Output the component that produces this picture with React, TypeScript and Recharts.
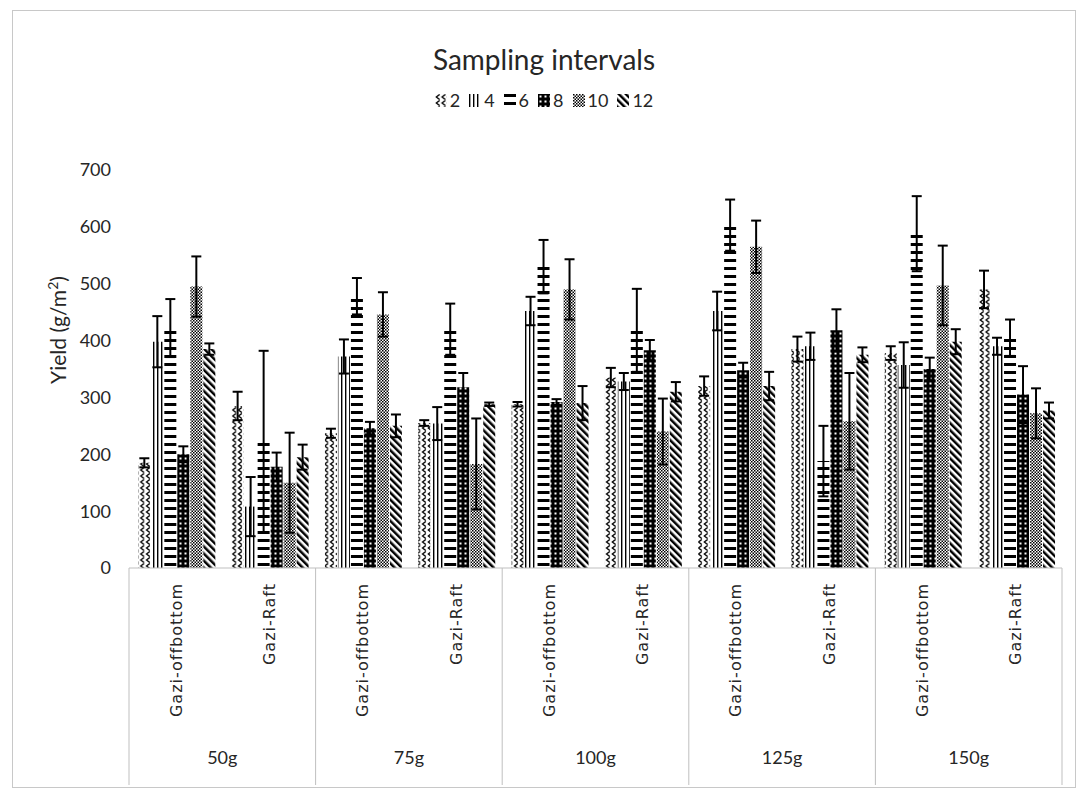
import React from 'react';
import { BarChart, Bar, XAxis, YAxis, ErrorBar } from 'recharts';

// categories
const groups = ['50g', '75g', '100g', '125g', '150g'];
const systems = ['Gazi-offbottom', 'Gazi-Raft'];
const intervals = ['2', '4', '6', '8', '10', '12'];
const yTicks = [0, 100, 200, 300, 400, 500, 600, 700];

// yield per interval, order: 50g off, 50g raft, 75g off, 75g raft, ... 150g raft
const yield2 = [185, 285, 237, 255, 288, 335, 320, 385, 378, 490];
const yield4 = [398, 108, 372, 254, 452, 328, 452, 390, 357, 390];
const yield6 = [422, 222, 478, 420, 530, 418, 603, 188, 588, 405];
const yield8 = [200, 178, 246, 318, 292, 383, 348, 418, 350, 305];
const yield10 = [495, 150, 446, 183, 490, 240, 565, 258, 497, 272];
const yield12 = [385, 195, 250, 288, 290, 310, 320, 375, 398, 277];

// error bars (+/-)
const err2 = [8, 25, 8, 5, 4, 17, 17, 22, 12, 33];
const err4 = [45, 52, 30, 29, 25, 15, 34, 24, 40, 15];
const err6 = [51, 160, 32, 45, 47, 73, 45, 62, 66, 32];
const err8 = [14, 25, 11, 25, 5, 18, 13, 37, 20, 50];
const err10 = [53, 88, 39, 80, 53, 58, 46, 85, 70, 44];
const err12 = [10, 22, 20, 3, 30, 17, 25, 13, 22, 14];

const values: Record<string, number[]> = { '2': yield2, '4': yield4, '6': yield6, '8': yield8, '10': yield10, '12': yield12 };
const errors: Record<string, number[]> = { '2': err2, '4': err4, '6': err6, '8': err8, '10': err10, '12': err12 };

const data = groups.flatMap((g, gi) =>
  systems.map((s, si) => {
    const idx = gi * systems.length + si;
    const row: any = { group: g, sub: s };
    intervals.forEach((k) => {
      row['v' + k] = values[k][idx];
      row['e' + k] = errors[k][idx];
    });
    return row;
  })
);

const W = 1062;
const H = 776;
const M_TOP = 159;
const M_RIGHT = 13;
const Y_W = 116;
const SUB_H = 150;
const GRP_H = 69;
const PLOT_BOTTOM = H - SUB_H - GRP_H;
const BAND = (W - Y_W - M_RIGHT) / data.length;

const LATO = 'Lato, "Noto Sans", sans-serif';
const TXT = '#262626';
const GRID = '#bfbfbf';

const SubTick = (props: any) => {
  const { x, payload } = props;
  const tx = x + 6;
  const ty = PLOT_BOTTOM + 15;
  return (
    <text
      x={tx}
      y={ty}
      transform={`rotate(-90, ${tx}, ${ty})`}
      textAnchor="end"
      style={{ fontFamily: '"DejaVu Sans", sans-serif', fontSize: 16, letterSpacing: 1, fill: TXT }}
    >
      {payload.value}
    </text>
  );
};

const GroupTick = (props: any) => {
  const { x, index, payload } = props;
  const y1 = PLOT_BOTTOM;
  const y2 = H - 2;
  if (index % 2 === 1) {
    if (index === data.length - 1) {
      return <line x1={x + BAND / 2} x2={x + BAND / 2} y1={y1} y2={y2} stroke={GRID} />;
    }
    return <g />;
  }
  return (
    <g>
      <line x1={x - BAND / 2} x2={x - BAND / 2} y1={y1} y2={y2} stroke={GRID} />
      <text x={x + BAND / 2} y={H - 30} textAnchor="middle" dominantBaseline="central" style={{ fontFamily: LATO, fontSize: 18, fill: TXT }}>
        {payload.value}
      </text>
    </g>
  );
};

export default function App() {
  return (
    <div style={{ position: 'absolute', left: 12, top: 10, width: W + 2, height: H + 2, border: '1px solid #c8c8c8', boxSizing: 'border-box', background: '#fff' }}>
      <div style={{ position: 'absolute', top: 31, left: 0, width: '100%', textAlign: 'center', fontFamily: LATO, fontSize: 28, lineHeight: '34px', color: TXT }}>
        Sampling intervals
      </div>
      <div style={{ position: 'absolute', top: 78, left: 0, width: '100%', display: 'flex', justifyContent: 'center', alignItems: 'center', gap: 9, fontFamily: LATO, fontSize: 18, lineHeight: '22px', color: TXT }}>
        {intervals.map((k) => (
          <span key={k} style={{ display: 'flex', alignItems: 'center' }}>
            <svg width={12} height={13} style={{ marginRight: 3 }}>
              <rect width={12} height={13} fill={`url(#pat${k})`} />
            </svg>
            {k}
          </span>
        ))}
      </div>
      <div style={{ position: 'absolute', left: 45 - 100, top: 319 - 14, width: 200, height: 28, textAlign: 'center', lineHeight: '28px', transform: 'rotate(-90deg)', fontFamily: LATO, fontSize: 21, color: TXT }}>
        Yield (g/m<sup style={{ fontSize: 14, lineHeight: 0 }}>2</sup>)
      </div>
      <BarChart
        width={W}
        height={H}
        data={data}
        margin={{ top: M_TOP, right: M_RIGHT, left: 0, bottom: 0 }}
        barCategoryGap="10%"
        barGap={1}
      >
        <defs>
          <pattern id="pat2" width={5.75} height={6} patternUnits="userSpaceOnUse">
            <rect width={5.75} height={6} fill="#fff" />
            <path d="M4.6 0.4 L1.3 3 L4.6 5.6" stroke="#000" strokeWidth={1.3} fill="none" />
          </pattern>
          <pattern id="pat4" width={4} height={4} patternUnits="userSpaceOnUse">
            <rect width={4} height={4} fill="#fff" />
            <rect x={0} width={1.4} height={4} fill="#000" />
          </pattern>
          <pattern id="pat6" width={10} height={8} patternUnits="userSpaceOnUse">
            <rect width={10} height={8} fill="#fff" />
            <rect y={0} width={10} height={3} fill="#000" />
          </pattern>
          <pattern id="pat8" width={5} height={5} patternUnits="userSpaceOnUse">
            <rect width={5} height={5} fill="#000" />
            <rect x={1.5} y={1.5} width={2} height={2} fill="#fff" />
          </pattern>
          <pattern id="pat10" width={3} height={3} patternUnits="userSpaceOnUse">
            <rect width={3} height={3} fill="#fff" />
            <rect width={1.5} height={1.5} fill="#000" />
            <rect x={1.5} y={1.5} width={1.5} height={1.5} fill="#000" />
          </pattern>
          <pattern id="pat12" width={5} height={5} patternUnits="userSpaceOnUse" patternTransform="rotate(-45)">
            <rect width={5} height={5} fill="#fff" />
            <rect width={2.5} height={5} fill="#000" />
          </pattern>
        </defs>
        <XAxis
          dataKey="sub"
          height={SUB_H}
          interval={0}
          tickLine={false}
          axisLine={{ stroke: GRID }}
          tick={<SubTick />}
        />
        <XAxis
          dataKey="group"
          xAxisId="grp"
          height={GRP_H}
          interval={0}
          tickLine={false}
          axisLine={false}
          tick={<GroupTick />}
        />
        <YAxis
          width={Y_W}
          domain={[0, 700]}
          ticks={yTicks}
          interval={0}
          axisLine={false}
          tickLine={false}
          tickSize={6}
          tickMargin={12}
          tick={{ fontFamily: LATO, fontSize: 18, fill: TXT }}
        />
        {intervals.map((k) => (
          <Bar key={k} dataKey={'v' + k} name={k} fill={`url(#pat${k})`} isAnimationActive={false}>
            <ErrorBar dataKey={'e' + k} width={5} strokeWidth={2} stroke="#000" direction="y" />
          </Bar>
        ))}
      </BarChart>
    </div>
  );
}
